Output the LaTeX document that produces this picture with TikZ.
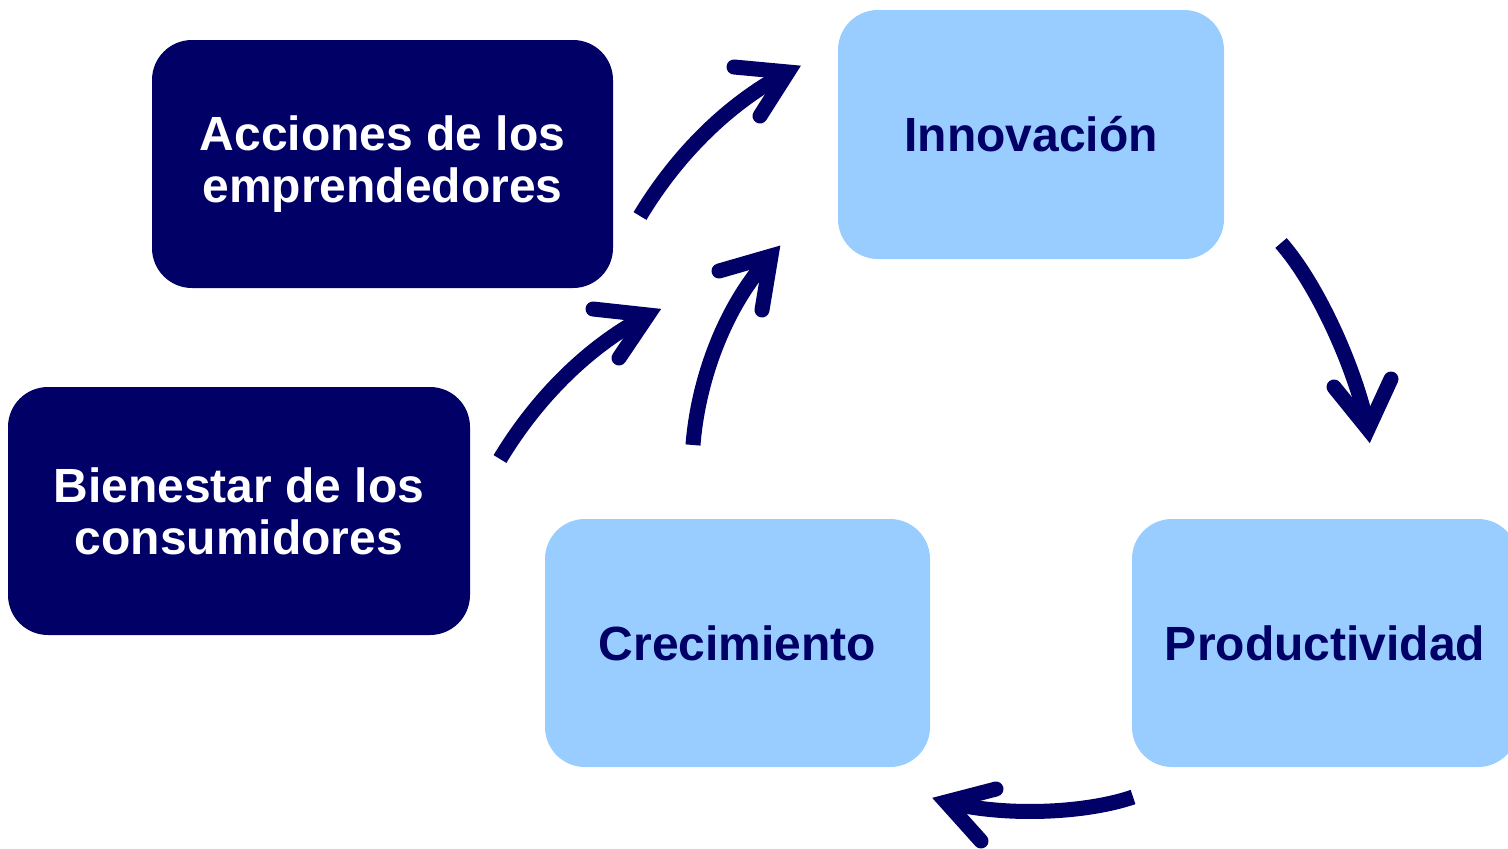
\documentclass[tikz,border=0pt]{standalone}
\usepackage{fontspec}
\setmainfont{Liberation Sans}
\usetikzlibrary{calc}
\definecolor{navy}{HTML}{000066}
\definecolor{lightblue}{HTML}{99CCFF}
\begin{document}
\begin{tikzpicture}[x=1pt,y=-1pt,
  box/.style={rounded corners=40pt, inner sep=0pt, align=center,
    font=\fontsize{48}{52}\selectfont\bfseries},
  darkbox/.style={box, fill=navy, text=white},
  lightbox/.style={box, fill=lightblue, text=navy},
  arrowbody/.style={draw=navy, line width=15pt, line cap=butt},
  arrowhead/.style={draw=navy, line width=15pt, line cap=round, line join=miter}]
\useasboundingbox (0,0) rectangle (1508,849);

\node[darkbox, minimum width=461pt, minimum height=248pt] (acc) at (382.5,164) {Acciones de los\\emprendedores};
\node[darkbox, minimum width=462pt, minimum height=248pt] (bien) at (239,511) {Bienestar de los\\consumidores};
\node[lightbox, minimum width=386pt, minimum height=249pt] (inno) at (1031,134.5) {Innovación};
\node[lightbox, minimum width=385pt, minimum height=248pt] (crec) at (737.5,643) {Crecimiento};
\node[lightbox, minimum width=386pt, minimum height=248pt] (prod) at (1325,643) {Productividad};

% arrow endpoints
\coordinate (a1s) at (640,216);  \coordinate (a1t) at (788,72);
\coordinate (a2s) at (500,459);  \coordinate (a2t) at (648,315);
\coordinate (a3s) at (693,445);  \coordinate (a3t) at (771,256);
\coordinate (a4s) at (1281,243); \coordinate (a4t) at (1368,429);
\coordinate (a5s) at (1133,797); \coordinate (a5t) at (946,802);

% acciones -> innovacion
\draw[arrowbody] (a1s) .. controls (675,158) and (725,105) .. (a1t);
\draw[arrowhead] ($(a1t)+(-54,-5)$) -- (a1t) -- ($(a1t)+(-28,44)$);
% bienestar -> innovacion
\draw[arrowbody] (a2s) .. controls (535,401) and (585,348) .. (a2t);
\draw[arrowhead] ($(a2t)+(-55,-6)$) -- (a2t) -- ($(a2t)+(-29,43)$);
% crecimiento -> innovacion
\draw[arrowbody] (a3s) .. controls (698,380) and (725,305) .. (a3t);
\draw[arrowhead] ($(a3t)+(-52,15)$) -- (a3t) -- ($(a3t)+(-9,54)$);
% innovacion -> productividad
\draw[arrowbody] (a4s) .. controls (1318,285) and (1356,370) .. (a4t);
\draw[arrowhead] ($(a4t)+(-34,-42)$) -- (a4t) -- ($(a4t)+(23,-50)$);
% productividad -> crecimiento
\draw[arrowbody] (a5s) .. controls (1090,812) and (1010,818) .. (a5t);
\draw[arrowhead] ($(a5t)+(50,-13)$) -- (a5t) -- ($(a5t)+(35,39)$);
\end{tikzpicture}
\end{document}
